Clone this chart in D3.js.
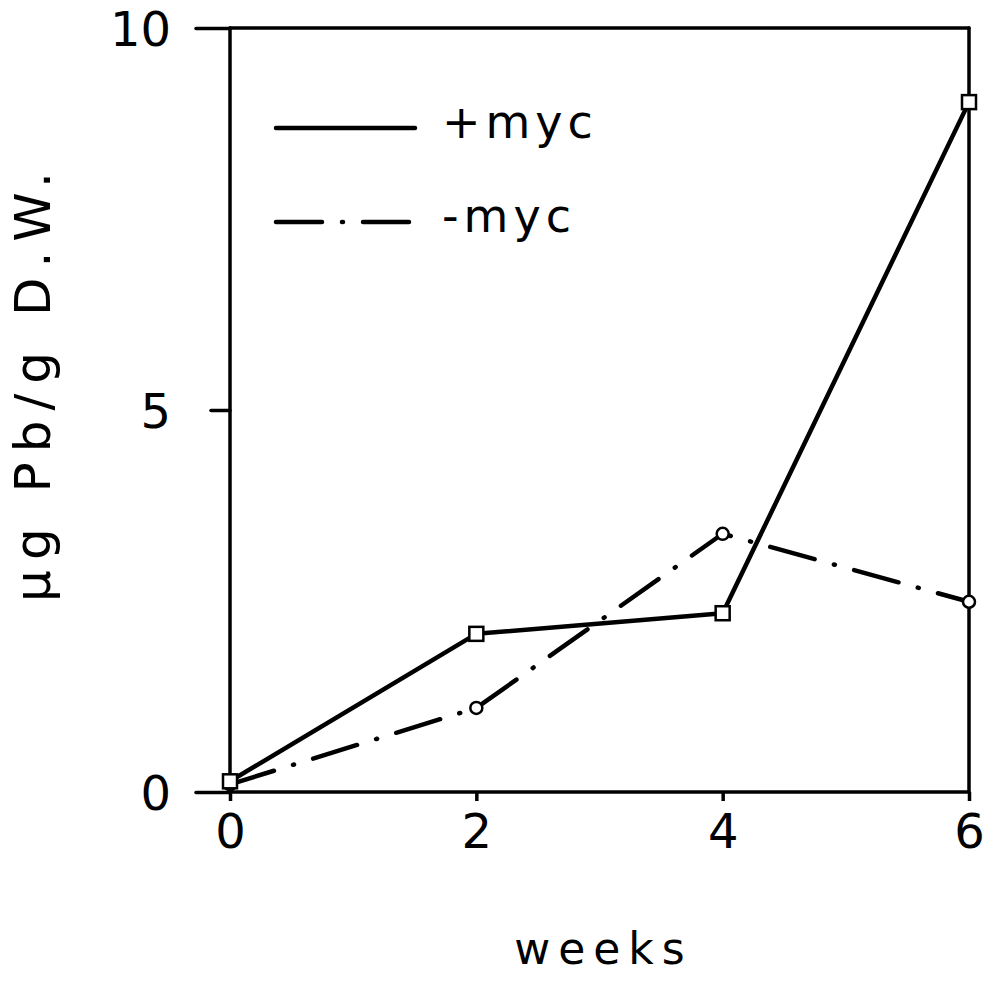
<!DOCTYPE html>
<html>
<head>
<meta charset="utf-8">
<script src="https://cdn.jsdelivr.net/npm/d3@7"></script>
<style>
  html, body { margin: 0; padding: 0; background: #fff; }
  svg { display: block; }
  text { font-family: "DejaVu Sans", "Noto Sans", sans-serif; fill: #000; }
</style>
</head>
<body>
<svg id="chart" width="989" height="982"></svg>
<script>
// Lead uptake over time, with and without mycorrhiza
const weeks = [0, 2, 4, 6];
const plusMyc = [0.14, 2.07, 2.34, 9.03];
const minusMyc = [0.10, 1.10, 3.38, 2.49];
const xTicks = [0, 2, 4, 6];
const yTicks = [0, 5, 10];
const seriesNames = ["+myc", "-myc"];

const svg = d3.select("#chart");
const plotLeft = 230, plotRight = 969, plotTop = 28, plotBottom = 792;

const x = d3.scaleLinear().domain([0, 6]).range([plotLeft, plotRight]);
const y = d3.scaleLinear().domain([0, 10]).range([plotBottom, plotTop]);

// Frame
const frame = svg.append("g").attr("stroke", "#000").attr("stroke-width", 3.5)
  .attr("stroke-linecap", "round").attr("fill", "none");
frame.append("line").attr("x1", x(0)).attr("x2", x(6)).attr("y1", y(10)).attr("y2", y(10));
frame.append("line").attr("x1", x(0)).attr("x2", x(6)).attr("y1", y(0)).attr("y2", y(0));
frame.append("line").attr("x1", x(0)).attr("x2", x(0)).attr("y1", y(10)).attr("y2", y(0));
frame.append("line").attr("x1", x(6)).attr("x2", x(6)).attr("y1", y(10)).attr("y2", y(0));

// Y axis
const yAxis = svg.append("g").attr("transform", `translate(${plotLeft},0)`)
  .call(d3.axisLeft(y).tickValues(yTicks).tickSize(0).tickPadding(0).tickFormat(d3.format("d")));
yAxis.select(".domain").remove();
yAxis.selectAll(".tick line").remove();
yAxis.selectAll(".tick").append("line")
  .attr("x1", d => d === 5 ? -19 : -34).attr("x2", 0)
  .attr("stroke", "#000").attr("stroke-width", 3.5).attr("stroke-linecap", "round");
yAxis.selectAll(".tick text")
  .attr("x", -59).attr("dy", "0.36em")
  .attr("font-size", 48).attr("text-anchor", "end");

// X axis
const xAxis = svg.append("g").attr("transform", `translate(0,${plotBottom})`)
  .call(d3.axisBottom(x).tickValues(xTicks).tickSize(0).tickPadding(0).tickFormat(d3.format("d")));
xAxis.select(".domain").remove();
xAxis.selectAll(".tick line").remove();
xAxis.selectAll(".tick").append("line")
  .attr("y1", 0).attr("y2", 9)
  .attr("stroke", "#000").attr("stroke-width", 3.5);
xAxis.selectAll(".tick text")
  .attr("y", 56).attr("dy", "0")
  .attr("font-size", 48).attr("text-anchor", "middle");

// Axis titles
svg.append("text").attr("x", x(3) + 4).attr("y", 964)
  .attr("text-anchor", "middle").attr("font-size", 44).attr("letter-spacing", 8)
  .text("weeks");
svg.append("text")
  .attr("transform", `translate(50,382) rotate(-90)`)
  .attr("text-anchor", "middle").attr("font-size", 50).attr("letter-spacing", 10)
  .text("µg Pb/g D.W.");

// Series lines
const dashPattern = "46,20,1,20";
const line = d3.line().x((d, i) => x(weeks[i])).y(d => y(d));

svg.append("path").datum(minusMyc).attr("d", line)
  .attr("fill", "none").attr("stroke", "#000").attr("stroke-width", 4.5)
  .attr("stroke-dasharray", dashPattern).attr("stroke-linecap", "round")
  .attr("stroke-linejoin", "round");

svg.append("path").datum(plusMyc).attr("d", line)
  .attr("fill", "none").attr("stroke", "#000").attr("stroke-width", 4.5)
  .attr("stroke-linejoin", "round");

// Markers
svg.append("g").selectAll("circle").data(minusMyc).join("circle")
  .attr("cx", (d, i) => x(weeks[i])).attr("cy", d => y(d)).attr("r", 6)
  .attr("fill", "#fff").attr("stroke", "#000").attr("stroke-width", 2.5);

svg.append("g").selectAll("rect").data(plusMyc).join("rect")
  .attr("x", (d, i) => x(weeks[i]) - 7).attr("y", d => y(d) - 7)
  .attr("width", 14).attr("height", 14)
  .attr("fill", "#fff").attr("stroke", "#000").attr("stroke-width", 2.5);

// Legend
const legend = svg.append("g");
const legendRows = [
  { name: seriesNames[0], y: 128, dash: null },
  { name: seriesNames[1], y: 222, dash: dashPattern }
];
legendRows.forEach(r => {
  legend.append("line").attr("x1", 276).attr("x2", 415).attr("y1", r.y).attr("y2", r.y)
    .attr("stroke", "#000").attr("stroke-width", 4.5).attr("stroke-linecap", "round")
    .attr("stroke-dasharray", r.dash);
  legend.append("text").attr("x", 442).attr("y", r.y + 10)
    .attr("font-size", 46).attr("letter-spacing", 5).text(r.name);
});
</script>
</body>
</html>
